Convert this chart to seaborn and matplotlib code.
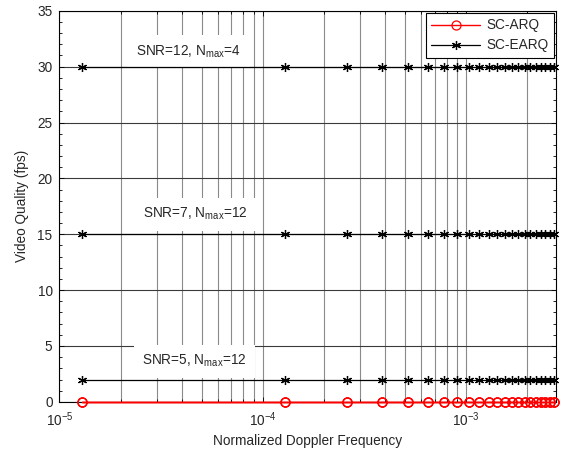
import matplotlib
matplotlib.use('Agg')
import matplotlib.pyplot as plt
import matplotlib.ticker as mticker
import seaborn as sns

# 정규화 도플러 주파수 (x)
doppler = [1.29e-5, 1.29e-4, 2.58e-4, 3.87e-4, 5.16e-4, 6.45e-4, 7.74e-4, 9.03e-4,
           1.032e-3, 1.161e-3, 1.29e-3, 1.419e-3, 1.548e-3, 1.677e-3, 1.806e-3,
           1.935e-3, 2.064e-3, 2.193e-3, 2.322e-3, 2.451e-3, 2.58e-3, 2.709e-3]

# SC-ARQ (세 경우 모두 0)
arq_snr12 = [0, 0, 0, 0, 0, 0, 0, 0, 0, 0, 0, 0, 0, 0, 0, 0, 0, 0, 0, 0, 0, 0]
arq_snr7 = [0, 0, 0, 0, 0, 0, 0, 0, 0, 0, 0, 0, 0, 0, 0, 0, 0, 0, 0, 0, 0, 0]
arq_snr5 = [0, 0, 0, 0, 0, 0, 0, 0, 0, 0, 0, 0, 0, 0, 0, 0, 0, 0, 0, 0, 0, 0]

# SC-EARQ
earq_snr12 = [30, 30, 30, 30, 30, 30, 30, 30, 30, 30, 30, 30, 30, 30, 30, 30, 30, 30, 30, 30, 30, 30]
earq_snr7 = [15, 15, 15, 15, 15, 15, 15, 15, 15, 15, 15, 15, 15, 15, 15, 15, 15, 15, 15, 15, 15, 15]
earq_snr5 = [2, 2, 2, 2, 2, 2, 2, 2, 2, 2, 2, 2, 2, 2, 2, 2, 2, 2, 2, 2, 2, 2]

labels = ['SNR=12, N$_{\\mathregular{max}}$=4',
          'SNR=7, N$_{\\mathregular{max}}$=12',
          'SNR=5, N$_{\\mathregular{max}}$=12']
label_x = [2.39e-5, 2.57e-5, 2.55e-5]
label_y = [31.0, 16.45, 3.3]

sns.set_style('ticks')
plt.rcParams['font.family'] = ['Liberation Sans', 'DejaVu Sans']
plt.rcParams['mathtext.fontset'] = 'custom'
plt.rcParams['mathtext.rm'] = 'Liberation Sans'
plt.rcParams['font.size'] = 9.8

fig = plt.figure(figsize=(5.61, 4.5), dpi=100)
ax = fig.add_axes([0.106, 0.107, 0.885, 0.869])

star = (6, 2, 0)
for vals in [earq_snr12, earq_snr7, earq_snr5]:
    sns.lineplot(x=doppler, y=vals, ax=ax, color='black', lw=0.9,
                 marker=star, markersize=6.5, mew=0.9, mec='black',
                 clip_on=False, legend=False, zorder=3)
for vals in [arq_snr12, arq_snr7, arq_snr5]:
    sns.lineplot(x=doppler, y=vals, ax=ax, color='red', lw=1.0,
                 marker='o', markersize=6.5, mfc='none', mec='red', mew=0.9,
                 clip_on=False, legend=False, zorder=4)

ax.set_xscale('log')
ax.set_xlim(1e-5, 2.76e-3)
ax.set_ylim(0, 35)
ax.yaxis.set_major_locator(mticker.MultipleLocator(5))
ax.yaxis.set_minor_locator(mticker.MultipleLocator(1))
ax.xaxis.set_minor_locator(mticker.LogLocator(base=10, subs=range(2, 10)))
ax.xaxis.set_minor_formatter(mticker.NullFormatter())

ax.set_axisbelow(True)
ax.xaxis.grid(True, which='both', color='#8a8a8a', lw=0.8)
ax.yaxis.grid(True, which='major', color='#3a3a3a', lw=0.8)

ax.tick_params(which='both', direction='in', top=True, right=True,
               color='black', width=0.6)
ax.tick_params(which='major', length=3.5)
ax.tick_params(which='minor', length=2)
ax.tick_params(axis='x', pad=6.5)
ax.tick_params(axis='y', pad=5)
for s in ax.spines.values():
    s.set_color('black')
    s.set_linewidth(0.8)

for txt, tx, ty in zip(labels, label_x, label_y):
    ax.text(tx, ty, txt, ha='left', va='baseline', zorder=2,
            bbox=dict(facecolor='white', edgecolor='none', pad=6))

ax.set_xlabel('Normalized Doppler Frequency', labelpad=3)
ax.set_ylabel('Video Quality (fps)', labelpad=6)

h = ax.get_lines()
leg = ax.legend([h[3], h[0]], ['SC-ARQ', 'SC-EARQ'], loc='upper right',
                fancybox=False, edgecolor='black', framealpha=1,
                handlelength=3.6, handletextpad=0.45, labelspacing=0.45,
                borderaxespad=0.15, borderpad=0.4)
leg.get_frame().set_linewidth(0.8)
leg.set_zorder(10)

fig.savefig('out.png', dpi=100)
